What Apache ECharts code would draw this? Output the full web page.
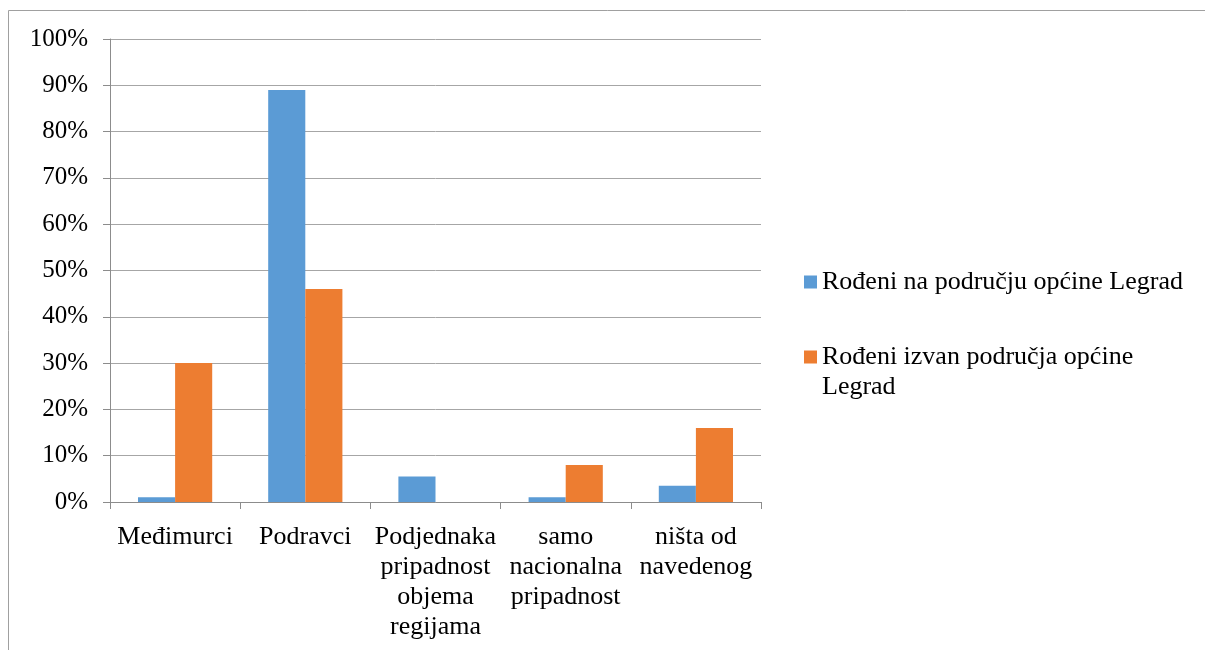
<!DOCTYPE html>
<html>
<head>
<meta charset="utf-8">
<script src="https://cdn.jsdelivr.net/npm/echarts@6/dist/echarts.min.js"></script>
<style>
  html, body { margin: 0; padding: 0; background: #ffffff; }
  #chart { width: 1205px; height: 650px; }
</style>
</head>
<body>
<div id="chart"></div>
<script>
// Categories (regional identity answers)
const categories = [
  'Međimurci',
  'Podravci',
  'Podjednaka\npripadnost\nobjema\nregijama',
  'samo\nnacionalna\npripadnost',
  'ništa od\nnavedenog'
];

// Shares in percent
const bornInLegrad = [1, 89, 5.5, 1, 3.5];
const bornOutsideLegrad = [30, 46, 0, 8, 16];

const seriesNames = [
  'Rođeni na području općine Legrad',
  'Rođeni izvan područja općine Legrad'
];

const yTicks = { min: 0, max: 100, interval: 10 };

const FONT = 'Liberation Serif';
const GRID_COLOR = '#a6a6a6';
const AXIS_COLOR = '#8c8c8c';

const chart = echarts.init(document.getElementById('chart'), null, { renderer: 'canvas' });

chart.setOption({
  animation: false,
  backgroundColor: '#ffffff',
  textStyle: { fontFamily: FONT, color: '#000000' },
  graphic: [{
    type: 'rect',
    silent: true,
    shape: { x: 8.5, y: 10.5, width: 1400, height: 800 },
    style: { fill: 'none', stroke: '#a0a0a0', lineWidth: 1 }
  }],
  grid: { left: 110, right: 444, top: 39, bottom: 148 },
  xAxis: {
    type: 'category',
    data: categories,
    axisLine: { show: true, lineStyle: { color: AXIS_COLOR, width: 1 } },
    axisTick: { show: true, length: 7, lineStyle: { color: AXIS_COLOR } },
    axisLabel: {
      interval: 0,
      margin: 20,
      color: '#000000',
      fontFamily: FONT,
      fontSize: 26,
      lineHeight: 30,
      align: 'center'
    }
  },
  yAxis: {
    type: 'value',
    min: yTicks.min,
    max: yTicks.max,
    interval: yTicks.interval,
    axisLine: { show: true, lineStyle: { color: AXIS_COLOR, width: 1 } },
    axisTick: { show: true, length: 7, lineStyle: { color: AXIS_COLOR } },
    splitLine: { show: true, lineStyle: { color: GRID_COLOR, width: 1 } },
    axisLabel: {
      formatter: '{value}%',
      margin: 22,
      color: '#000000',
      fontFamily: FONT,
      fontSize: 25
    }
  },
  legend: [{
    orient: 'vertical',
    left: 799,
    top: 262,
    itemWidth: 13,
    itemHeight: 13,
    itemGap: 0,
    icon: 'rect',
    selectedMode: false,
    data: [seriesNames[0]],
    textStyle: { fontFamily: FONT, fontSize: 26, color: '#000000', lineHeight: 30 }
  }, {
    orient: 'vertical',
    left: 799,
    top: 307,
    itemWidth: 13,
    itemHeight: 13,
    itemGap: 0,
    icon: 'rect',
    selectedMode: false,
    data: [seriesNames[1]],
    // blank first line keeps the marker level with the first text line
    formatter: () => '\nRođeni izvan područja općine\nLegrad',
    textStyle: { fontFamily: FONT, fontSize: 26, color: '#000000', lineHeight: 30 }
  }],
  series: [{
    name: seriesNames[0],
    type: 'bar',
    data: bornInLegrad,
    barGap: '0%',
    barCategoryGap: '43%',
    itemStyle: { color: '#5b9bd5' }
  }, {
    name: seriesNames[1],
    type: 'bar',
    data: bornOutsideLegrad,
    barGap: '0%',
    barCategoryGap: '43%',
    itemStyle: { color: '#ed7d31' }
  }]
});
</script>
</body>
</html>
